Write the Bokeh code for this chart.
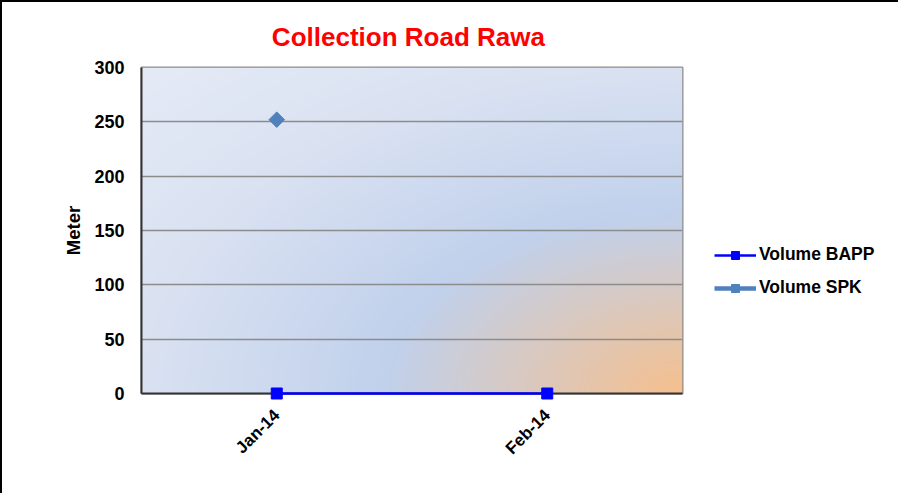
import math
import numpy as np
from bokeh.plotting import figure
from bokeh.models import FactorRange, Range1d, Legend, LegendItem, FixedTicker
from bokeh.embed import file_html
from bokeh.resources import INLINE

# ---- data ----
months = ["Jan-14", "Feb-14"]
volume_bapp = [0, 0]
volume_spk = [252, float("nan")]
y_ticks = [0, 50, 100, 150, 200, 250, 300]
y_min, y_max = 0, 300

FONT = "Liberation Sans"

p = figure(frame_width=541, frame_height=326,
           x_range=FactorRange(*months, range_padding=0),
           y_range=Range1d(y_min, y_max),
           output_backend="svg", toolbar_location=None,
           min_border_left=141, min_border_right=216,
           min_border_top=67, min_border_bottom=100)

# chart-area border (black on left/top, grey on right)
p.styles = {"box-shadow": "inset 2px 2px 0 0 #000000, inset -2px 0 0 0 #A0A0A0",
            "background-color": "white"}

# ---- background gradient (radial from bottom-right corner) ----
h, w = 200, 330
vv = np.linspace(0, 1, h)[:, None]          # distance from bottom
uu = np.linspace(1, 0, w)[None, :]          # distance from right
d = np.sqrt(uu ** 2 + vv ** 2)
stops = [0.0, 0.55, 1.0, 1.42]
cols = np.array([[0xF6, 0xC0, 0x8E], [0xC1, 0xD1, 0xEC], [0xDA, 0xE2, 0xF2], [0xE5, 0xEB, 0xF6]], dtype=float)
img = np.empty((h, w), dtype=np.uint32)
view = img.view(dtype=np.uint8).reshape((h, w, 4))
for c in range(3):
    view[:, :, c] = np.interp(d, stops, cols[:, c]).astype(np.uint8)
view[:, :, 3] = 255
p.image_rgba(image=[img], x=0, y=y_min, dw=len(months), dh=y_max - y_min, level="image")

p.background_fill_color = "#D6DEF0"
p.border_fill_alpha = 0
p.outline_line_color = "#8C8C8C"
p.outline_line_width = 2

# ---- grid ----
p.xgrid.grid_line_color = None
p.ygrid.grid_line_color = "#8C8C8C"
p.ygrid.grid_line_width = 1.5
p.ygrid.ticker = FixedTicker(ticks=y_ticks)

# ---- series ----
r_bapp_line = p.line(months, volume_bapp, line_color="#0000FF", line_width=2.5, level="overlay")
r_bapp_pts = p.scatter(months, volume_bapp, marker="square", size=11,
                       fill_color="#0000FF", line_color="#0000FF", level="overlay")
r_spk_line = p.line(months, volume_spk, line_color="#4F81BD", line_width=4.5)
r_spk_pts = p.scatter(months, volume_spk, marker="square", size=11, angle=math.pi / 4,
                      fill_color="#4F81BD", line_color="#4F81BD")

# ---- axes ----
p.yaxis.ticker = FixedTicker(ticks=y_ticks)
p.yaxis.major_label_text_font = FONT
p.yaxis.major_label_text_font_style = "bold"
p.yaxis.major_label_text_font_size = "18px"
p.yaxis.major_label_text_color = "black"
p.yaxis.major_tick_out = 0
p.yaxis.major_tick_in = 0
p.yaxis.minor_tick_out = 0
p.yaxis.minor_tick_in = 0
p.yaxis.major_label_standoff = 17
p.yaxis.axis_line_color = "#333333"
p.yaxis.axis_line_width = 2
p.yaxis.axis_label = "Meter"
p.yaxis.axis_label_text_font = FONT
p.yaxis.axis_label_text_font_style = "bold"
p.yaxis.axis_label_text_font_size = "18.5px"
p.yaxis.axis_label_text_color = "black"
p.yaxis.axis_label_standoff = 7

p.xaxis.major_label_orientation = math.pi / 4
p.xaxis.major_label_text_font = FONT
p.xaxis.major_label_text_font_style = "bold"
p.xaxis.major_label_text_font_size = "17px"
p.xaxis.major_label_text_color = "black"
p.xaxis.major_tick_out = 0
p.xaxis.major_tick_in = 0
p.xaxis.axis_line_color = "#333333"
p.xaxis.axis_line_width = 2
p.xaxis.major_label_standoff = 19

# ---- title ----
p.title.text = "Collection Road  Rawa"
p.title.text_color = "#FF0000"
p.title.text_font = FONT
p.title.text_font_style = "bold"
p.title.text_font_size = "26px"
p.title.align = "center"
p.title.standoff = 31

# ---- legend (right of the plot frame) ----
legend = Legend(items=[
    LegendItem(label="Volume BAPP", renderers=[r_bapp_line, r_bapp_pts]),
    LegendItem(label="Volume SPK", renderers=[r_spk_line, r_spk_pts]),
], location=(32, 95))
legend.border_line_color = None
legend.background_fill_alpha = 0
legend.label_text_font = FONT
legend.label_text_font_style = "bold"
legend.label_text_font_size = "17.5px"
legend.label_text_color = "black"
legend.glyph_width = 42
legend.glyph_height = 20
legend.label_standoff = 3
legend.spacing = 12
legend.padding = 0
legend.margin = 0
p.add_layout(legend, "right")

open("out.html", "w").write(file_html(p, INLINE))
